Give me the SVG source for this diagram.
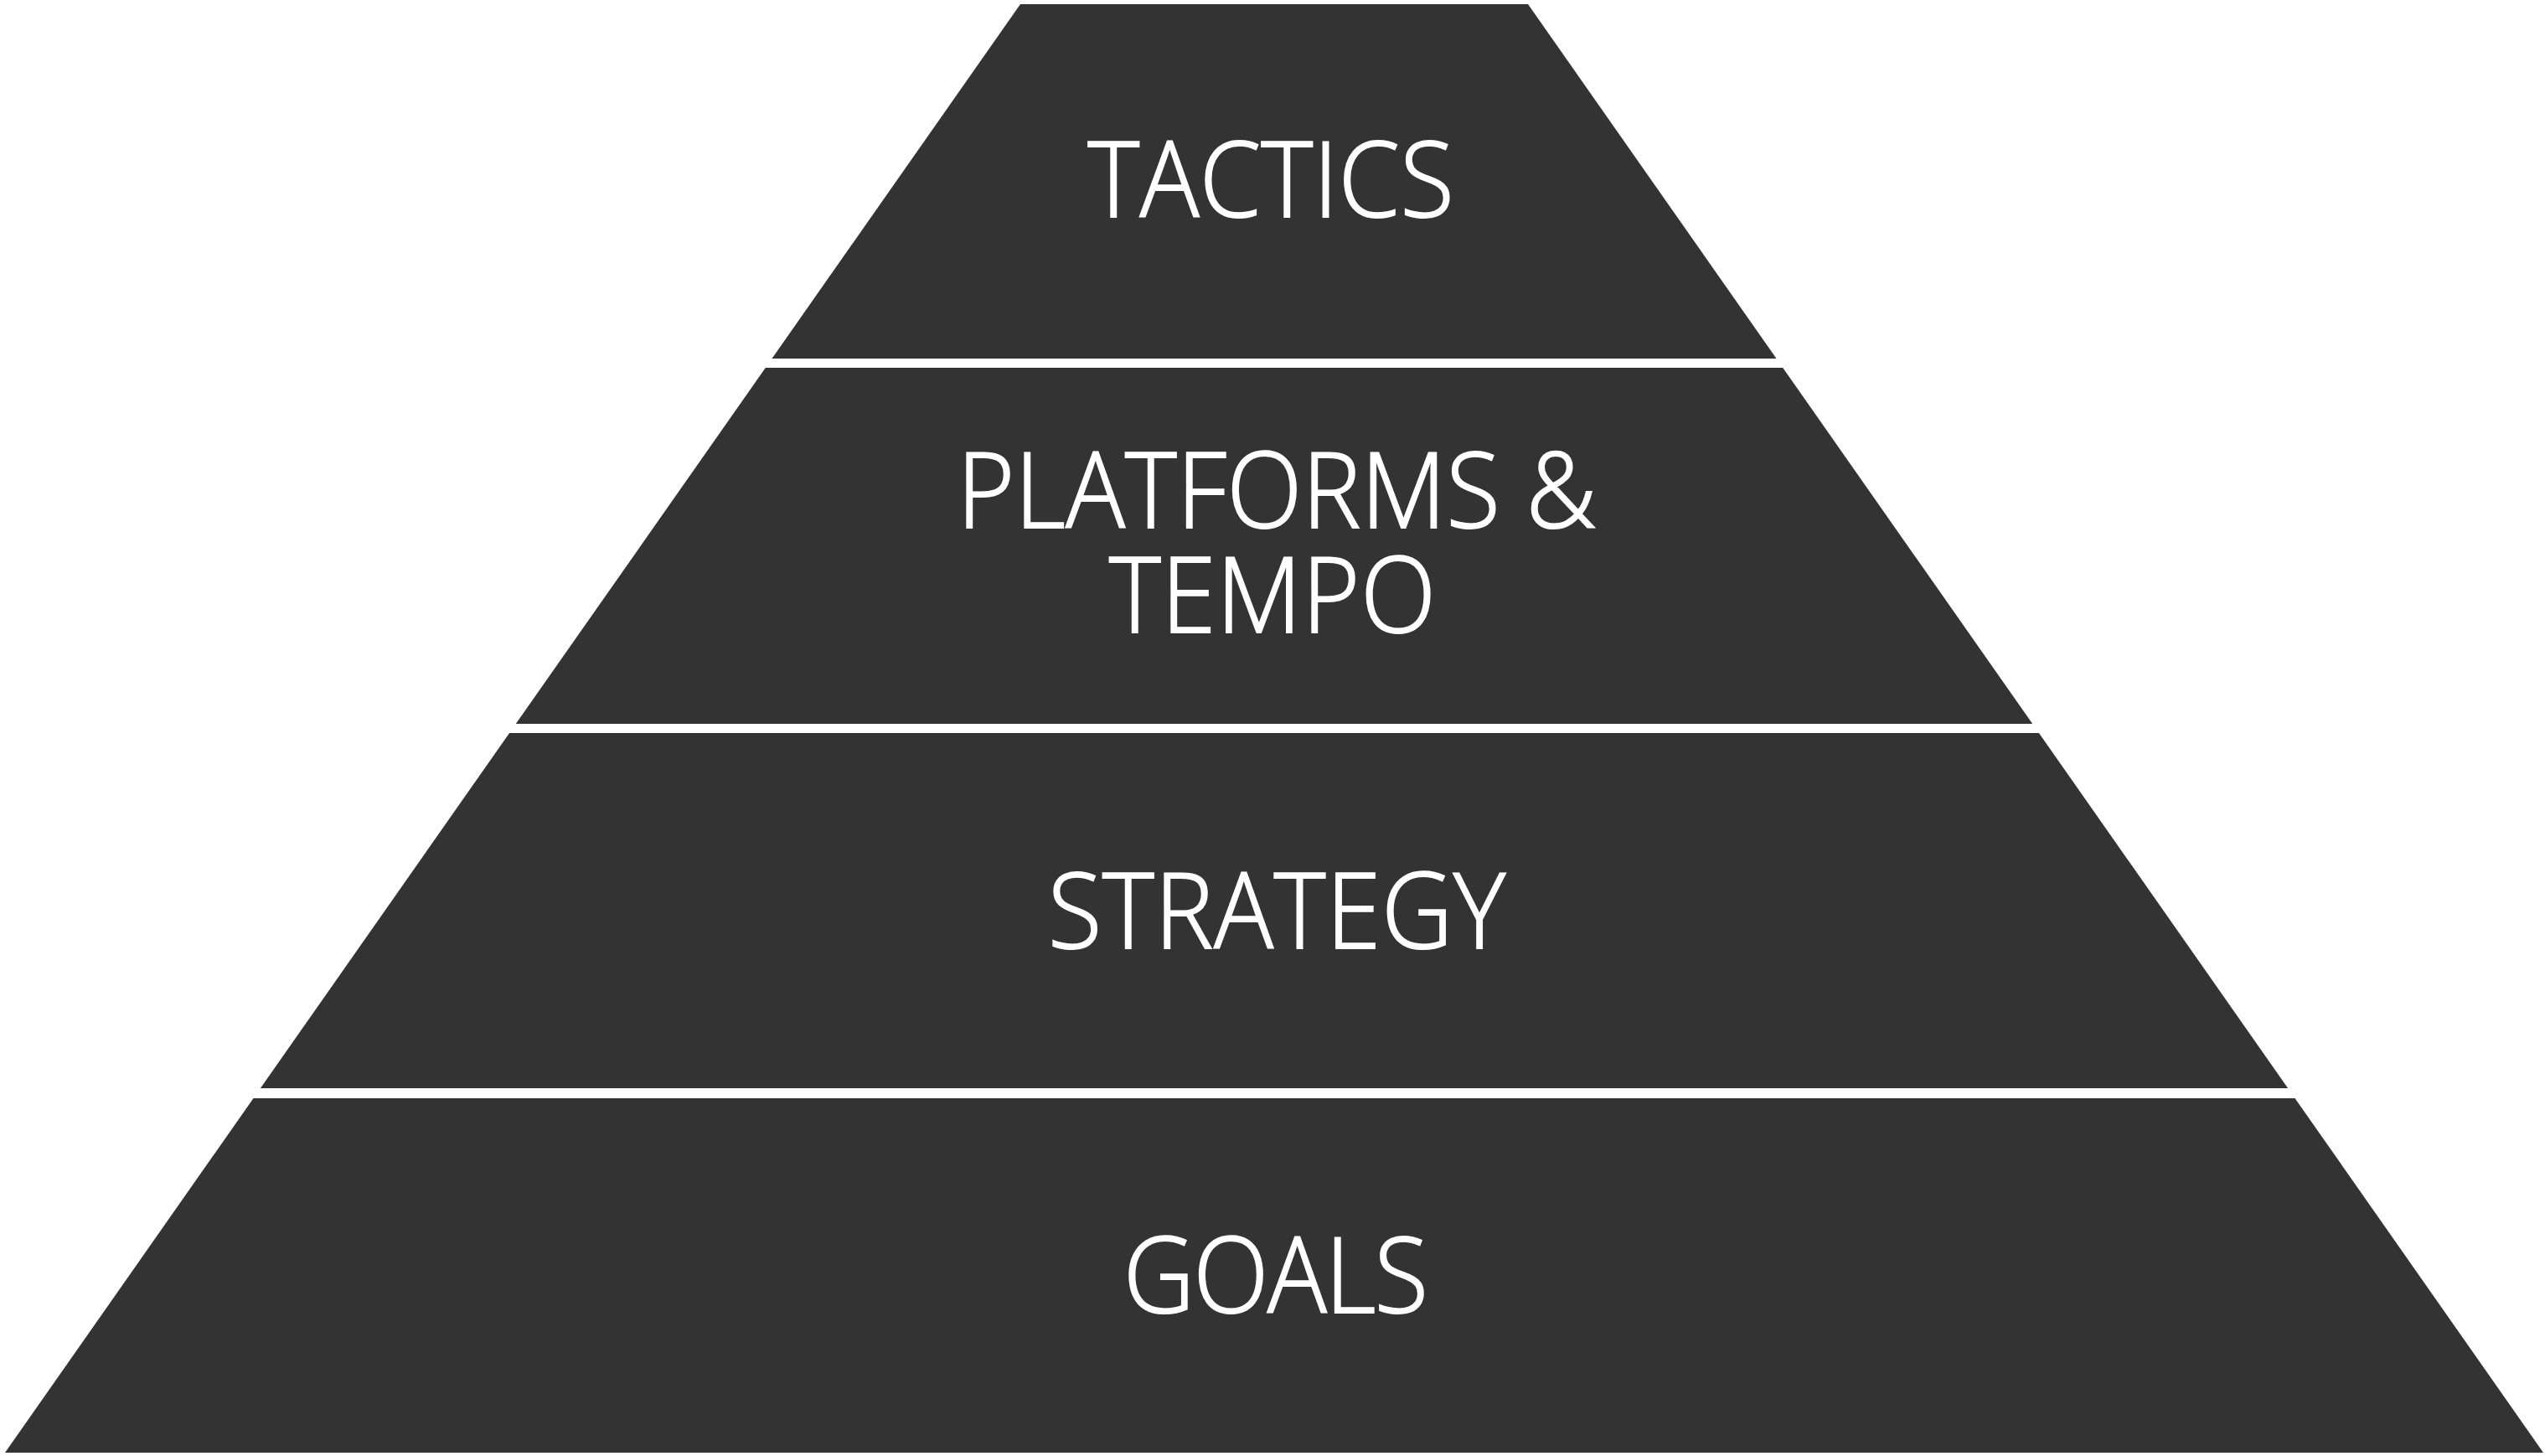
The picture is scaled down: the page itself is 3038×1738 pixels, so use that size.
<svg xmlns="http://www.w3.org/2000/svg" width="3038" height="1738" viewBox="0 0 3038 1738">
<style>
.tier{fill:#333333;}
.lbl{fill:#ffffff;stroke:#ffffff;stroke-width:2px;font-family:"Open Sans","Noto Sans",sans-serif;font-weight:300;font-size:125px;text-anchor:middle;}
</style>
<rect width="3038" height="1738" fill="#ffffff"/>
<g id="tactics">
<polygon class="tier" points="1218,5 1824,5 2120.5,428 921.5,428"/>
<text class="lbl" transform="scale(0.94 1)" x="1613.8" y="259" textLength="464.9" lengthAdjust="spacing">TACTICS</text>
</g>
<g id="platforms-tempo">
<polygon class="tier" points="913.8,439 2128.2,439 2426.2,864 615.8,864"/>
<text class="lbl" transform="scale(0.94 1)"><tspan x="1621.3" y="630" textLength="811.7" lengthAdjust="spacing">PLATFORMS &amp;</tspan><tspan x="1616" y="755" textLength="414.9" lengthAdjust="spacing">TEMPO</tspan></text>
</g>
<g id="strategy">
<polygon class="tier" points="608.1,875 2433.9,875 2731.1,1299 310.9,1299"/>
<text class="lbl" transform="scale(0.94 1)" x="1621.3" y="1132" textLength="580.9" lengthAdjust="spacing">STRATEGY</text>
</g>
<g id="goals">
<polygon class="tier" points="302.5,1311 2739.5,1311 3036,1734 6,1734"/>
<text class="lbl" transform="scale(0.94 1)" x="1620.2" y="1567" textLength="387.2" lengthAdjust="spacing">GOALS</text>
</g>
<g id="connectors"></g>
</svg>
